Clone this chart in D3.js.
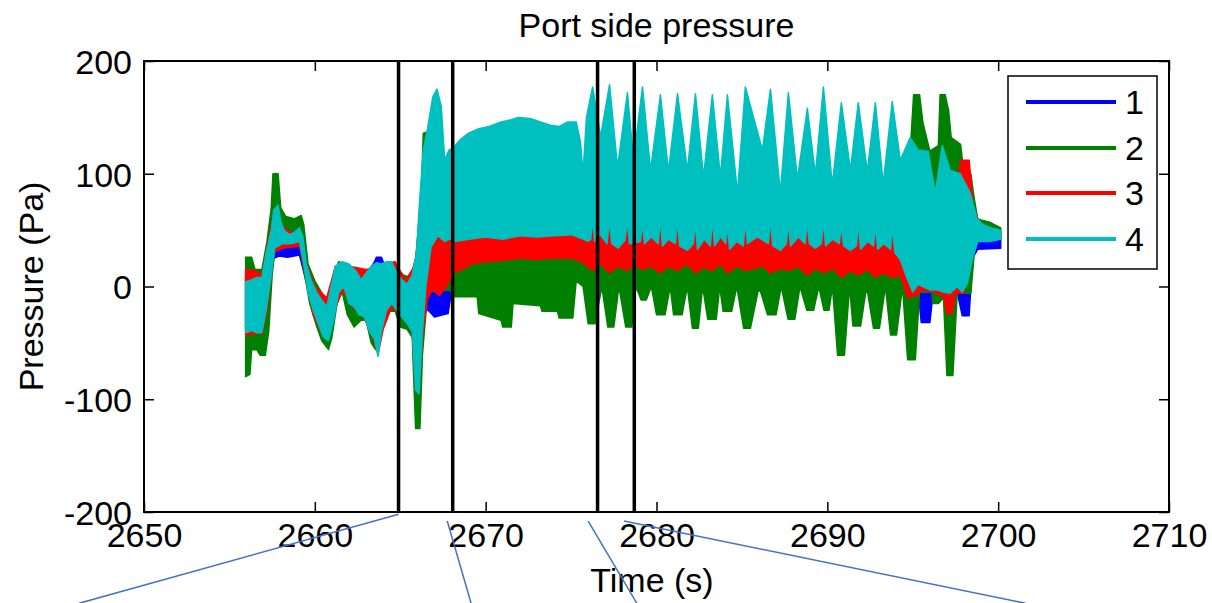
<!DOCTYPE html>
<html lang="en">
<head>
<meta charset="utf-8"/>
<title>Port side pressure</title>
<style>
    body { margin: 0; background: #fff; }
    text { font-family: "Liberation Sans", Arial, Helvetica, sans-serif; fill: #000; }
    .axis text { font-size: 34px; }
    .axis line { stroke: #000; stroke-width: 1.5; }
    .axis path { display: none; }
</style>
</head>
<body>
<div id="graph"></div>
<script src="https://cdn.jsdelivr.net/npm/d3@7"></script>
<script>
    // tick labels
    var xTicks = [2650, 2660, 2670, 2680, 2690, 2700, 2710];
    var yTicks = [-200, -100, 0, 100, 200];
    var legendLabels = ["1", "2", "3", "4"];
    var seriesColors = ["#0000ff", "#008000", "#ff0000", "#00bfbf"];

    // vertical event markers (s)
    var markerTimes = [2664.9, 2668.07, 2676.55, 2678.7];

    // callout lines below the axes, [time, pressure] pairs
    var callouts = [
        [[2664.9, -202], [2646.2, -281]],
        [[2667.75, -208], [2669.15, -281]],
        [[2676.0, -208], [2678.85, -281]],
        [[2678.1, -208], [2701.6, -281]]
    ];

    // envelopes of each trace, [time, pressure]
    var blueTop = [
        [2655.95, 10], [2656.9, 5], [2657.2, 30], [2657.6, 55], [2658.0, 48], [2659.2, 45], [2659.5, 15],
        [2660.0, -5], [2660.7, -15], [2661.2, 15], [2662.0, 15], [2663.0, 10], [2663.5, 22], [2663.6, 26],
        [2663.9, 26], [2664.1, 18], [2664.7, 18], [2665.3, 0], [2665.9, 15], [2666.3, 60], [2667.0, 60],
        [2668.0, 60], [2697.5, 60], [2698.0, 60], [2698.6, 50], [2699.0, 48], [2700.15, 45]
    ];
    var blueBottom = [
        [2655.95, -38], [2656.9, -38], [2657.2, -15], [2657.6, 25], [2657.9, 27], [2658.4, 26], [2659.1, 28],
        [2659.4, 10], [2659.9, -20], [2660.5, -40], [2661.2, -18], [2661.6, 0], [2662.2, -15], [2663.0, -25],
        [2663.7, -55], [2664.2, -20], [2665.0, -22], [2665.7, -38], [2666.0, -85], [2666.3, -40], [2666.5, -20],
        [2666.7, -22], [2667.0, -27], [2667.5, -25], [2667.8, -24], [2668.0, -5], [2668.3, 10], [2675.7, 10],
        [2676.0, -3], [2676.4, 0], [2677.0, 2], [2677.6, -5], [2678.0, 2], [2680.0, 2], [2680.5, -4],
        [2681.0, 2], [2684.5, 2], [2684.9, -5], [2685.3, 2], [2686.0, -4], [2686.5, 2], [2688.3, 2],
        [2688.6, -6], [2689.0, 2], [2691.8, 2], [2692.3, -5], [2692.6, 2], [2695.3, -2], [2695.5, -32],
        [2696.0, -32], [2696.2, -5], [2697.6, -5], [2697.9, -26], [2698.3, -26], [2698.5, 25], [2698.8, 33],
        [2700.15, 34]
    ];

    var greenTop = [
        [2655.95, 26], [2656.3, 26], [2656.5, 15], [2656.9, 15], [2657.2, 40], [2657.45, 70], [2657.55, 100],
        [2657.85, 100], [2658.0, 70], [2658.3, 62], [2658.8, 60], [2659.2, 63], [2659.35, 55], [2659.6, 20],
        [2660.0, 5], [2660.5, -8], [2660.8, -15], [2661.1, 10], [2661.4, 22], [2662.0, 18], [2663.0, 12],
        [2664.0, 20], [2664.7, 18], [2665.2, 10], [2665.6, 8], [2665.9, 25], [2666.2, 70], [2666.35, 136],
        [2666.8, 138], [2667.1, 140], [2667.4, 110], [2668.0, 95], [2676.0, 90], [2694.0, 90], [2694.6, 110],
        [2694.9, 132], [2695.05, 170], [2695.4, 170], [2695.6, 145], [2696.0, 120], [2696.5, 125],
        [2696.6, 170], [2696.9, 170], [2697.1, 156], [2697.25, 132], [2697.8, 126], [2698.0, 100],
        [2698.4, 100], [2698.6, 78], [2698.8, 60], [2699.0, 59], [2699.5, 57], [2700.15, 52]
    ];
    var greenBottom = [
        [2655.95, -80], [2656.2, -78], [2656.3, -56], [2656.6, -56], [2656.8, -61], [2657.1, -61],
        [2657.3, -40], [2657.5, 10], [2657.7, 38], [2659.1, 38], [2659.35, 15], [2659.7, -15], [2660.1, -35],
        [2660.4, -48], [2660.8, -56], [2661.0, -45], [2661.3, -15], [2661.6, -5], [2661.9, -25], [2662.3, -36],
        [2662.7, -30], [2663.0, -30], [2663.3, -50], [2663.55, -56], [2663.9, -35], [2664.3, -22], [2664.7, -22],
        [2665.0, -36], [2665.4, -38], [2665.7, -45], [2665.9, -126], [2666.15, -126], [2666.3, -60],
        [2666.45, -33], [2666.6, -5], [2667.9, -3], [2668.1, -9], [2669.5, -9], [2669.6, -24], [2670.9, -30],
        [2671.0, -36], [2671.5, -36], [2671.6, -15], [2673.2, -17], [2673.3, -22], [2674.2, -22], [2674.3, -28],
        [2675.1, -28], [2675.3, 5], [2675.7, 0],
        [2676.0, -33], [2676.4, -33], [2676.8, 0], [2677.15, -36], [2677.5, -36], [2677.8, 0], [2678.2, -36],
        [2678.55, -36], [2678.8, 0], [2679.1, -12], [2679.4, -12], [2679.7, 0], [2680.0, -25], [2680.5, -25],
        [2680.8, 0], [2681.0, -25], [2681.5, -25], [2681.8, 0], [2682.1, -37], [2682.45, -37], [2682.7, 0],
        [2683.0, -29], [2683.5, -29], [2683.7, 0], [2683.9, -22], [2684.4, -22], [2684.7, 0], [2685.1, -37],
        [2685.5, -37], [2686.0, 0], [2686.5, -25], [2687.0, -25], [2687.3, 0], [2687.7, -29], [2688.1, -29],
        [2688.4, 0], [2688.8, -21], [2689.2, -21], [2689.5, 0], [2689.8, -21], [2690.1, -21], [2690.3, 0],
        [2690.6, -61], [2691.0, -61], [2691.3, 0], [2691.5, -35], [2691.95, -35], [2692.3, 0], [2692.7, -37],
        [2693.05, -37], [2693.4, 0], [2693.7, -43], [2694.05, -43], [2694.4, 0], [2694.7, -65], [2695.15, -65],
        [2695.4, -5], [2696.1, -5], [2696.2, -15], [2696.5, -15], [2696.8, -10], [2697.0, -79], [2697.35, -79],
        [2697.6, -6], [2698.4, -6], [2698.6, 30], [2698.8, 40], [2700.15, 44]
    ];

    var redTop = [
        [2655.95, 15], [2656.5, 14], [2656.9, 10], [2657.2, 35], [2657.6, 65], [2658.0, 55], [2658.6, 48],
        [2659.2, 48], [2659.5, 20], [2660.0, 0], [2660.7, -10], [2661.2, 18], [2662.0, 18], [2663.0, 15],
        [2664.0, 20], [2664.7, 22], [2665.3, 5], [2665.9, 20], [2666.3, 100], [2666.8, 120], [2667.5, 100],
        [2668.5, 80], [2675.5, 80], [2676.0, 75], [2697.5, 75], [2697.8, 112], [2698.3, 112], [2698.55, 70],
        [2699.0, 53], [2699.5, 51], [2700.15, 49]
    ];
    var redBottom = [
        [2655.95, -43], [2656.5, -42], [2656.9, -42], [2657.2, -22], [2657.6, 30], [2658.1, 34], [2659.1, 36],
        [2659.4, 15], [2659.9, -25], [2660.5, -45], [2660.8, -47], [2661.2, -20], [2661.6, -3], [2662.2, -18],
        [2662.9, -28], [2663.4, -45], [2663.7, -60], [2664.0, -38], [2664.5, -18], [2665.0, -25], [2665.7, -40],
        [2665.9, -85], [2666.1, -90], [2666.3, -45], [2666.6, -10], [2666.9, -3], [2667.3, -8], [2667.7, 0],
        [2668.1, 12], [2668.6, 15], [2669.2, 20], [2670.0, 22], [2671.0, 23], [2672.0, 25], [2673.0, 24],
        [2674.0, 25], [2675.0, 25], [2675.6, 22], [2676.26, 14], [2676.73, 20], [2677.25, 12], [2677.72, 18],
        [2678.3, 14], [2678.65, 20], [2679.18, 15], [2679.65, 18], [2680.23, 12], [2680.7, 18], [2681.23, 14],
        [2681.81, 20], [2682.28, 12], [2682.75, 17], [2683.27, 14], [2683.74, 20], [2684.15, 12], [2684.74, 18],
        [2685.2, 14], [2686.2, 18], [2686.67, 12], [2687.25, 16], [2687.72, 14], [2688.25, 18], [2688.83, 10],
        [2689.3, 16], [2689.77, 12], [2690.29, 16], [2690.82, 8], [2691.35, 14], [2691.81, 10], [2692.34, 15],
        [2692.81, 8], [2693.27, 12], [2693.8, 8], [2694.27, 10], [2694.7, -10], [2695.2, -8], [2695.6, -3],
        [2696.2, -5], [2696.8, -9], [2697.0, -24], [2697.3, -24], [2697.5, -6], [2698.0, -6], [2698.4, 28],
        [2698.8, 42], [2700.15, 42]
    ];

    var cyanTop = [
        [2655.95, 4], [2656.3, 6], [2656.6, 8], [2656.9, 8], [2657.15, 30], [2657.45, 50], [2657.6, 68],
        [2657.85, 72], [2658.0, 58], [2658.2, 50], [2658.5, 46], [2658.8, 48], [2659.1, 52], [2659.3, 44],
        [2659.5, 20], [2659.8, 5], [2660.1, -5], [2660.4, -12], [2660.7, -18], [2660.95, 0], [2661.2, 18],
        [2661.6, 22], [2662.0, 20], [2662.4, 14], [2662.7, 6], [2663.0, 12], [2663.3, 18], [2663.6, 21],
        [2663.9, 20], [2664.2, 22], [2664.5, 22], [2664.8, 12], [2665.1, 6], [2665.4, 2], [2665.7, 10],
        [2665.95, 30], [2666.15, 80], [2666.35, 121], [2666.6, 140], [2666.9, 168], [2667.15, 175],
        [2667.4, 160], [2667.6, 112], [2667.85, 121], [2668.1, 123], [2668.5, 130], [2669.0, 136],
        [2669.6, 140], [2670.2, 142], [2670.9, 146], [2671.5, 148], [2671.9, 150], [2672.6, 149],
        [2673.2, 146], [2673.8, 143], [2674.3, 142], [2674.8, 146], [2675.3, 146], [2675.55, 128],
        [2675.7, 100], [2675.9, 150], [2676.26, 177], [2676.73, 133], [2677.25, 179], [2677.72, 106],
        [2678.3, 172], [2678.65, 112], [2679.18, 177], [2679.65, 103], [2680.23, 170], [2680.7, 102],
        [2681.23, 171], [2681.81, 103], [2682.28, 171], [2682.75, 97], [2683.27, 170], [2683.74, 97],
        [2684.15, 170], [2684.74, 83], [2685.2, 177], [2686.2, 121], [2686.67, 175], [2687.25, 83],
        [2687.72, 172], [2688.25, 95], [2688.83, 158], [2689.3, 99], [2689.77, 177], [2690.29, 90],
        [2690.82, 163], [2691.35, 103], [2691.81, 163], [2692.34, 102], [2692.81, 163], [2693.27, 91],
        [2693.8, 164], [2694.27, 112], [2694.85, 132], [2695.32, 121], [2695.9, 120], [2696.32, 83],
        [2696.73, 125], [2697.19, 103], [2697.78, 100], [2698.36, 83], [2698.77, 60], [2699.1, 55],
        [2699.6, 52], [2700.15, 50]
    ];
    var cyanBottom = [
        [2655.95, -41], [2656.3, -39], [2656.6, -41], [2656.9, -41], [2657.15, -21], [2657.45, 10],
        [2657.65, 34], [2658.1, 38], [2658.6, 38], [2659.1, 40], [2659.35, 20], [2659.6, -5], [2659.9, -21],
        [2660.2, -33], [2660.5, -45], [2660.8, -48], [2661.1, -30], [2661.4, -5], [2661.7, 0], [2662.0, -15],
        [2662.3, -18], [2662.6, -25], [2662.9, -27], [2663.2, -40], [2663.5, -47], [2663.7, -62], [2663.9, -40],
        [2664.2, -21], [2664.5, -15], [2664.8, -21], [2665.1, -27], [2665.4, -33], [2665.7, -40], [2665.9, -92],
        [2666.1, -95], [2666.3, -40], [2666.5, 0], [2666.8, 35], [2667.2, 45], [2667.6, 40], [2667.9, 42],
        [2668.2, 40], [2669.0, 42], [2670.0, 44], [2671.0, 42], [2672.0, 45], [2673.0, 44], [2674.0, 45],
        [2675.0, 46], [2675.7, 42], [2676.0, 40], [2676.15, 42], [2676.26, 60], [2676.38, 40], [2676.7, 46],
        [2677.1, 38], [2677.25, 58], [2677.38, 38], [2677.75, 34], [2678.15, 41], [2678.3, 58], [2678.42, 38],
        [2679.05, 40], [2679.18, 56], [2679.3, 38], [2679.7, 44], [2680.1, 38], [2680.23, 60], [2680.35, 36],
        [2680.7, 42], [2681.1, 38], [2681.23, 58], [2681.35, 36], [2681.8, 32], [2682.15, 38], [2682.28, 56],
        [2682.4, 33], [2682.8, 42], [2683.15, 36], [2683.27, 60], [2683.4, 36], [2683.75, 44], [2684.05, 38],
        [2684.15, 54], [2684.28, 33], [2684.7, 40], [2685.08, 36], [2685.2, 58], [2685.32, 38], [2685.9, 44],
        [2686.55, 38], [2686.67, 60], [2686.8, 36], [2687.25, 32], [2687.6, 38], [2687.72, 56], [2687.85, 36],
        [2688.3, 44], [2688.7, 38], [2688.83, 57], [2688.95, 38], [2689.3, 34], [2689.65, 38], [2689.77, 58],
        [2689.9, 36], [2690.3, 42], [2690.7, 38], [2690.82, 54], [2690.95, 36], [2691.35, 32], [2691.7, 36],
        [2691.81, 56], [2691.95, 33], [2692.35, 40], [2692.7, 36], [2692.81, 54], [2692.95, 33], [2693.3, 38],
        [2693.7, 33], [2693.8, 54], [2693.95, 30], [2694.27, 24], [2694.6, 10], [2695.0, -5], [2695.3, 2],
        [2696.0, -3], [2696.4, -3], [2696.8, -5], [2697.2, -6], [2697.6, 0], [2697.9, -5], [2698.2, 3],
        [2698.5, 25], [2698.8, 40], [2699.5, 40], [2700.15, 42]
    ];

    var traces = [
        { top: blueTop, bottom: blueBottom },
        { top: greenTop, bottom: greenBottom },
        { top: redTop, bottom: redBottom },
        { top: cyanTop, bottom: cyanBottom }
    ];

    var width = 1212, height = 603;
    var x = d3.scaleLinear().domain([2650, 2710]).range([144, 1169]);
    var y = d3.scaleLinear().domain([-200, 200]).range([512, 61]);

    var svg = d3.select("#graph").append("svg")
        .attr("width", width)
        .attr("height", height);

    svg.append("clipPath").attr("id", "plotclip")
        .append("rect")
        .attr("x", x(2650)).attr("y", y(200))
        .attr("width", x(2710) - x(2650)).attr("height", y(-200) - y(200));

    var line = d3.line()
        .x(function (d) { return x(d[0]); })
        .y(function (d) { return y(d[1]); });

    // each trace is so dense it reads as a band between its envelopes
    svg.append("g").attr("clip-path", "url(#plotclip)")
        .selectAll("path")
        .data(traces)
        .enter()
        .append("path")
        .attr("d", function (d) { return line(d.top.concat(d.bottom.slice().reverse())) + "Z"; })
        .style("fill", function (d, i) { return seriesColors[i]; })
        .style("stroke", function (d, i) { return seriesColors[i]; })
        .style("stroke-width", 1.5)
        .style("stroke-linejoin", "round");

    svg.selectAll(".marker")
        .data(markerTimes)
        .enter()
        .append("line")
        .attr("class", "marker")
        .attr("x1", function (d) { return x(d); })
        .attr("x2", function (d) { return x(d); })
        .attr("y1", y(200))
        .attr("y2", y(-200))
        .style("stroke", "#000")
        .style("stroke-width", 3.5);

    // axes, matlab style ticks pointing inward on all four sides
    var plainNum = function (d) { return String(d); };

    svg.append("g")
        .attr("class", "x axis")
        .attr("transform", "translate(0," + y(-200) + ")")
        .call(d3.axisBottom(x).tickValues(xTicks).tickSize(-10).tickPadding(11).tickFormat(plainNum));

    svg.append("g")
        .attr("class", "x axis")
        .attr("transform", "translate(0," + y(200) + ")")
        .call(d3.axisTop(x).tickValues(xTicks).tickSize(-10).tickFormat(""));

    svg.append("g")
        .attr("class", "y axis")
        .attr("transform", "translate(" + x(2650) + ",0)")
        .call(d3.axisLeft(y).tickValues(yTicks).tickSize(-10).tickPadding(12).tickFormat(plainNum));

    svg.append("g")
        .attr("class", "y axis")
        .attr("transform", "translate(" + x(2710) + ",0)")
        .call(d3.axisRight(y).tickValues(yTicks).tickSize(-10).tickFormat(""));

    svg.selectAll(".y.axis text").attr("dy", "0.36em");

    svg.append("rect")
        .attr("x", x(2650)).attr("y", y(200))
        .attr("width", x(2710) - x(2650)).attr("height", y(-200) - y(200))
        .style("fill", "none")
        .style("stroke", "#000")
        .style("stroke-width", 2);

    svg.append("text")
        .attr("x", (x(2650) + x(2710)) / 2)
        .attr("y", 37)
        .style("text-anchor", "middle")
        .style("font-size", "34px")
        .text("Port side pressure");

    svg.append("text")
        .attr("x", 652)
        .attr("y", 592)
        .style("text-anchor", "middle")
        .style("font-size", "34px")
        .text("Time (s)");

    svg.append("text")
        .attr("transform", "translate(43," + y(0) + ") rotate(-90)")
        .style("text-anchor", "middle")
        .style("font-size", "34px")
        .text("Pressure (Pa)");

    // legend
    var legend = svg.append("g").attr("transform", "translate(1008,76)");
    legend.append("rect")
        .attr("width", 149).attr("height", 193)
        .style("fill", "#fff")
        .style("stroke", "#000")
        .style("stroke-width", 1.5);
    var rowY = [26, 72, 117, 163];
    legendLabels.forEach(function (lab, i) {
        legend.append("line")
            .attr("x1", 18).attr("x2", 108)
            .attr("y1", rowY[i]).attr("y2", rowY[i])
            .style("stroke", seriesColors[i])
            .style("stroke-width", 4);
        legend.append("text")
            .attr("x", 117).attr("y", rowY[i] + 12)
            .style("font-size", "34px")
            .text(lab);
    });

    // callouts pointing at the zoom panels below
    svg.selectAll(".callout")
        .data(callouts)
        .enter()
        .append("path")
        .attr("class", "callout")
        .attr("d", function (d) { return line(d); })
        .style("fill", "none")
        .style("stroke", "#4472c4")
        .style("stroke-width", 1.5);
</script>
</body>
</html>
